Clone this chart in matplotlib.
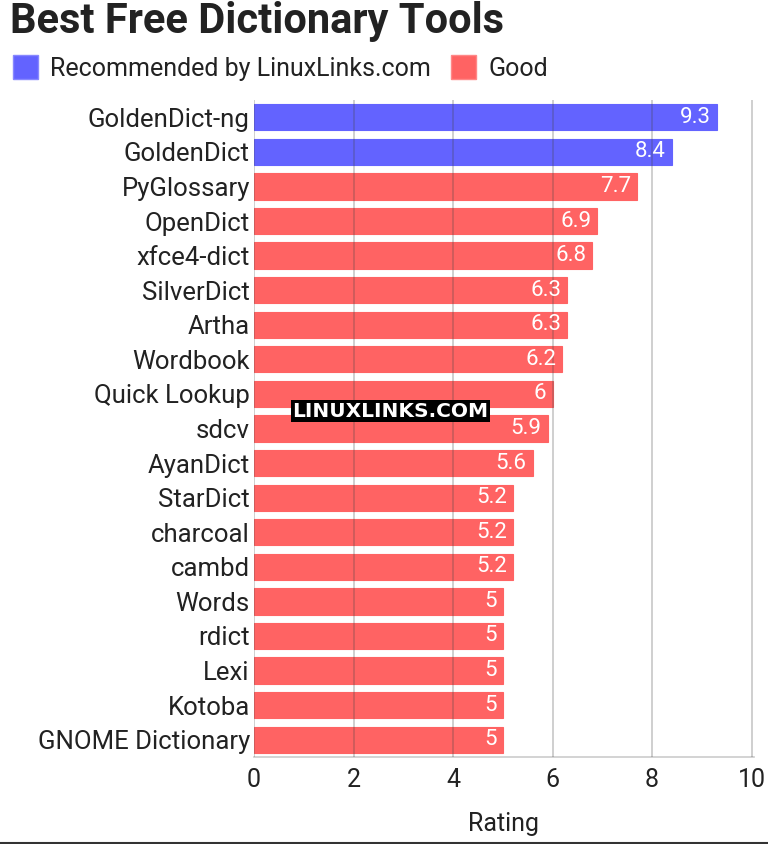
import matplotlib.pyplot as plt
from matplotlib.patches import Patch

# data
tools = ['GoldenDict-ng', 'GoldenDict', 'PyGlossary', 'OpenDict', 'xfce4-dict',
         'SilverDict', 'Artha', 'Wordbook', 'Quick Lookup', 'sdcv', 'AyanDict',
         'StarDict', 'charcoal', 'cambd', 'Words', 'rdict', 'Lexi', 'Kotoba',
         'GNOME Dictionary']
ratings = [9.3, 8.4, 7.7, 6.9, 6.8, 6.3, 6.3, 6.2, 6, 5.9, 5.6,
           5.2, 5.2, 5.2, 5, 5, 5, 5, 5]
groups = ['rec', 'rec'] + ['good'] * 17
labels = ['9.3', '8.4', '7.7', '6.9', '6.8', '6.3', '6.3', '6.2', '6', '5.9',
          '5.6', '5.2', '5.2', '5.2', '5', '5', '5', '5', '5']

colors = {'rec': '#6363ff', 'good': '#ff6363'}

plt.rcParams['font.family'] = ['Roboto', 'DejaVu Sans']

fig = plt.figure(figsize=(7.68, 8.44), dpi=100)
ax = fig.add_axes([254 / 768, 1 - 757 / 844, 500 / 768, 657 / 844])

ypos = list(range(len(tools)))
bars = ax.barh(ypos, ratings, height=0.76,
               color=[colors[g] for g in groups],
               edgecolor=[colors[g] for g in groups], linewidth=0.8, zorder=2)

for y, v, t in zip(ypos, ratings, labels):
    ax.text(v - 0.12, y, t, ha='right', va='center', color='white',
            fontsize=16, zorder=4)

ax.set_ylim(len(tools) - 0.5, -0.5)
ax.set_xlim(0, 10.05)
ax.set_xticks([0, 2, 4, 6, 8, 10])
ax.set_yticks(ypos)
ax.set_yticklabels(tools, fontsize=18.5, color='#222222')
ax.tick_params(axis='x', labelsize=18, colors='#222222', length=0, pad=8)
ax.tick_params(axis='y', length=0, pad=3)
ax.xaxis.grid(True, color='#444444', alpha=0.3, linewidth=1.2, zorder=3)
ax.set_axisbelow(False)
for s in ['top', 'right', 'left']:
    ax.spines[s].set_visible(False)
ax.spines['bottom'].set_color('#cccccc')
ax.spines['bottom'].set_linewidth(1.2)
ax.set_xlabel('Rating', fontsize=18, color='#222222', labelpad=14)

fig.text(10 / 768, 1 - 21 / 844, 'Best Free Dictionary Tools', fontsize=30,
         fontweight='bold', color='#222222', va='center', ha='left')

handles = [Patch(facecolor=colors['rec'], edgecolor='#8888ff'),
           Patch(facecolor=colors['good'], edgecolor='#ff8888')]
fig.legend(handles, ['Recommended by LinuxLinks.com', 'Good'],
           loc='center left', bbox_to_anchor=(13 / 768, 1 - 68 / 844),
           ncol=2, frameon=False, fontsize=18, handlelength=1.0,
           handleheight=1.1, handletextpad=0.5, columnspacing=0.8,
           borderpad=0, borderaxespad=0, labelcolor='#222222')

ax.text(2.74, 8.5, 'LINUXLINKS.COM', ha='center', va='center', fontsize=14.5,
        fontweight='bold', color='white', zorder=5, family='DejaVu Sans',
        bbox=dict(facecolor='black', edgecolor='none', pad=1.0))

fig.add_artist(plt.Line2D([0, 1], [1 / 844, 1 / 844], color='#333333',
                          linewidth=1.5))

fig.savefig('out.png', dpi=100)
